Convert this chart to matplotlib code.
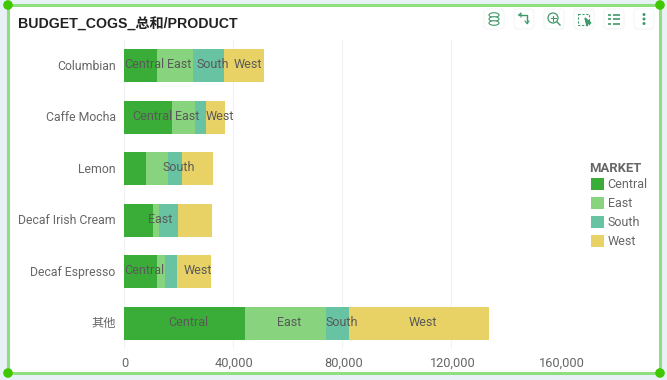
import matplotlib
matplotlib.use('Agg')
import matplotlib.pyplot as plt
from matplotlib.patches import Rectangle, FancyBboxPatch, Circle, Ellipse
from matplotlib.transforms import ScaledTranslation

plt.rcParams['font.family'] = ['Roboto', 'Noto Sans CJK SC', 'DejaVu Sans']

products = ['Columbian', 'Caffe Mocha', 'Lemon', 'Decaf Irish Cream', 'Decaf Espresso', '其他']
markets = ['Central', 'East', 'South', 'West']
central = [12100, 17600, 8100, 10600, 12100, 44400]
east = [13200, 8400, 8100, 2200, 2900, 29700]
south = [11400, 4000, 5100, 7000, 4400, 8400]
west = [14700, 7000, 11400, 12500, 12500, 51400]
series = [central, east, south, west]
# which segments got a label in the original
shown = [[1, 1, 1, 1],
         [1, 1, 0, 1],
         [0, 0, 1, 0],
         [0, 1, 0, 0],
         [1, 0, 0, 1],
         [1, 1, 1, 1]]
ticks = [0, 40000, 80000, 120000, 160000]

colors = ['#3AAD38', '#88D47E', '#68C3A3', '#E8D266']
grey = '#666666'
W, H = 667.0, 380.0

fig = plt.figure(figsize=(6.67, 3.8), dpi=100, facecolor='#E8F1F5')

# page layer in pixel coords: card, border, handles, toolbar
bg = fig.add_axes([0, 0, 1, 1], zorder=0)
bg.set_xlim(0, W)
bg.set_ylim(H, 0)
bg.axis('off')
bg.add_patch(Rectangle((8, 5), 652, 368, fc='white', ec='#90DF7E', lw=2.2))
for cx, cy in [(8, 5), (660, 5), (8, 373), (660, 373)]:
    bg.add_patch(Circle((cx, cy), 4.8, fc='#3FC800', ec='none', zorder=5))
bg.text(18, 24.5, 'BUDGET_COGS_总和/PRODUCT', fontsize=10.2, fontweight='bold',
        family=['Liberation Sans', 'Noto Sans CJK SC'], color='#222222', va='center', ha='left')
bg.text(589, 168, 'MARKET', fontsize=9.4, fontweight='bold', color=grey, va='center', ha='left')

ic = '#3E9A68'
for bx in [494, 524, 554, 584, 614, 644]:
    bg.add_patch(FancyBboxPatch((bx - 8, 11), 16, 16, boxstyle='round,pad=2,rounding_size=4',
                                fc='white', ec='#F3F5F6', lw=0.8))
# database
for yy in [15, 19, 23]:
    bg.add_patch(Ellipse((494, yy), 10, 4.5, fc='white', ec=ic, lw=0.8))
# rotate arrow
bg.plot([519, 527, 527], [15, 15, 23], color=ic, lw=1.0)
bg.plot([518.5, 521, 521], [15, 13, 17], color=ic, lw=0.8)
bg.plot([525, 527, 529], [21, 23.5, 21], color=ic, lw=0.8)
# zoom
bg.add_patch(Circle((553, 18), 5, fc='none', ec=ic, lw=0.9))
bg.plot([550.5, 555.5], [18, 18], color=ic, lw=0.8)
bg.plot([553, 553], [15.5, 20.5], color=ic, lw=0.8)
bg.plot([557, 560], [22, 25], color=ic, lw=1.0)
# box select
bg.add_patch(Rectangle((578, 14), 11, 11, fc='none', ec=ic, lw=0.8, ls=(0, (2, 1.5))))
bg.fill([585, 591, 588, 587], [18, 23, 23.5, 26], color=ic)
# list
for yy in [14.5, 19, 23.5]:
    bg.plot([608, 611], [yy, yy], color=ic, lw=1.2, solid_capstyle='butt')
    bg.plot([612.5, 620], [yy, yy], color=ic, lw=1.2, solid_capstyle='butt')
# more
for yy in [14.5, 19, 23.5]:
    bg.add_patch(Circle((644, yy), 1.5, fc=ic, ec='none'))

# chart axes
ax = fig.add_axes([124 / W, 1 - 349 / H, (560.3 - 124) / W, 309 / H], zorder=1)
ax.patch.set_alpha(0)
ypos = range(len(products))
left = [0] * len(products)
handles = []
for m, vals, c in zip(range(len(markets)), series, colors):
    bars = ax.barh(ypos, vals, left=left, height=0.64, color=c, label=markets[m], zorder=2)
    handles.append(bars)
    for i, v in enumerate(vals):
        if shown[i][m]:
            ax.annotate(markets[m], (left[i] + v / 2.0, i), xytext=(2.9, 0.7),
                        textcoords='offset points', ha='center', va='center',
                        fontsize=9, color='#595959', zorder=3)
    left = [a + b for a, b in zip(left, vals)]

ax.set_xlim(0, 160000)
ax.set_ylim(len(products) - 0.5, -0.5)
ax.set_yticks(list(ypos))
ax.set_yticklabels(products, fontsize=8.8, color=grey)
ax.set_xticks(ticks)
ax.set_xticklabels(['{:,}'.format(t) for t in ticks], fontsize=9.2, color=grey)
ax.tick_params(axis='both', length=0)
ax.tick_params(axis='y', pad=6)
ax.tick_params(axis='x', pad=5.7)
# nudge tick labels a pixel like the original
for lb in ax.get_xticklabels():
    lb.set_transform(lb.get_transform() + ScaledTranslation(1.3 / 100, 0, fig.dpi_scale_trans))
for lb in ax.get_yticklabels():
    lb.set_transform(lb.get_transform() + ScaledTranslation(0, 1.0 / 100, fig.dpi_scale_trans))
ax.grid(axis='x', color='#F2F2F2', lw=0.8, zorder=0)
for s in ax.spines.values():
    s.set_visible(False)

leg = fig.legend(handles=handles, loc='upper left',
                 bbox_to_anchor=(591 / W, 1 - 178 / H), frameon=False, fontsize=9,
                 alignment='left', handlelength=1.04, handleheight=1.04,
                 handletextpad=0.3, labelspacing=0.48, borderpad=0, borderaxespad=0)
for t in leg.get_texts():
    t.set_color(grey)

fig.savefig('out.png', dpi=100, facecolor=fig.get_facecolor())
